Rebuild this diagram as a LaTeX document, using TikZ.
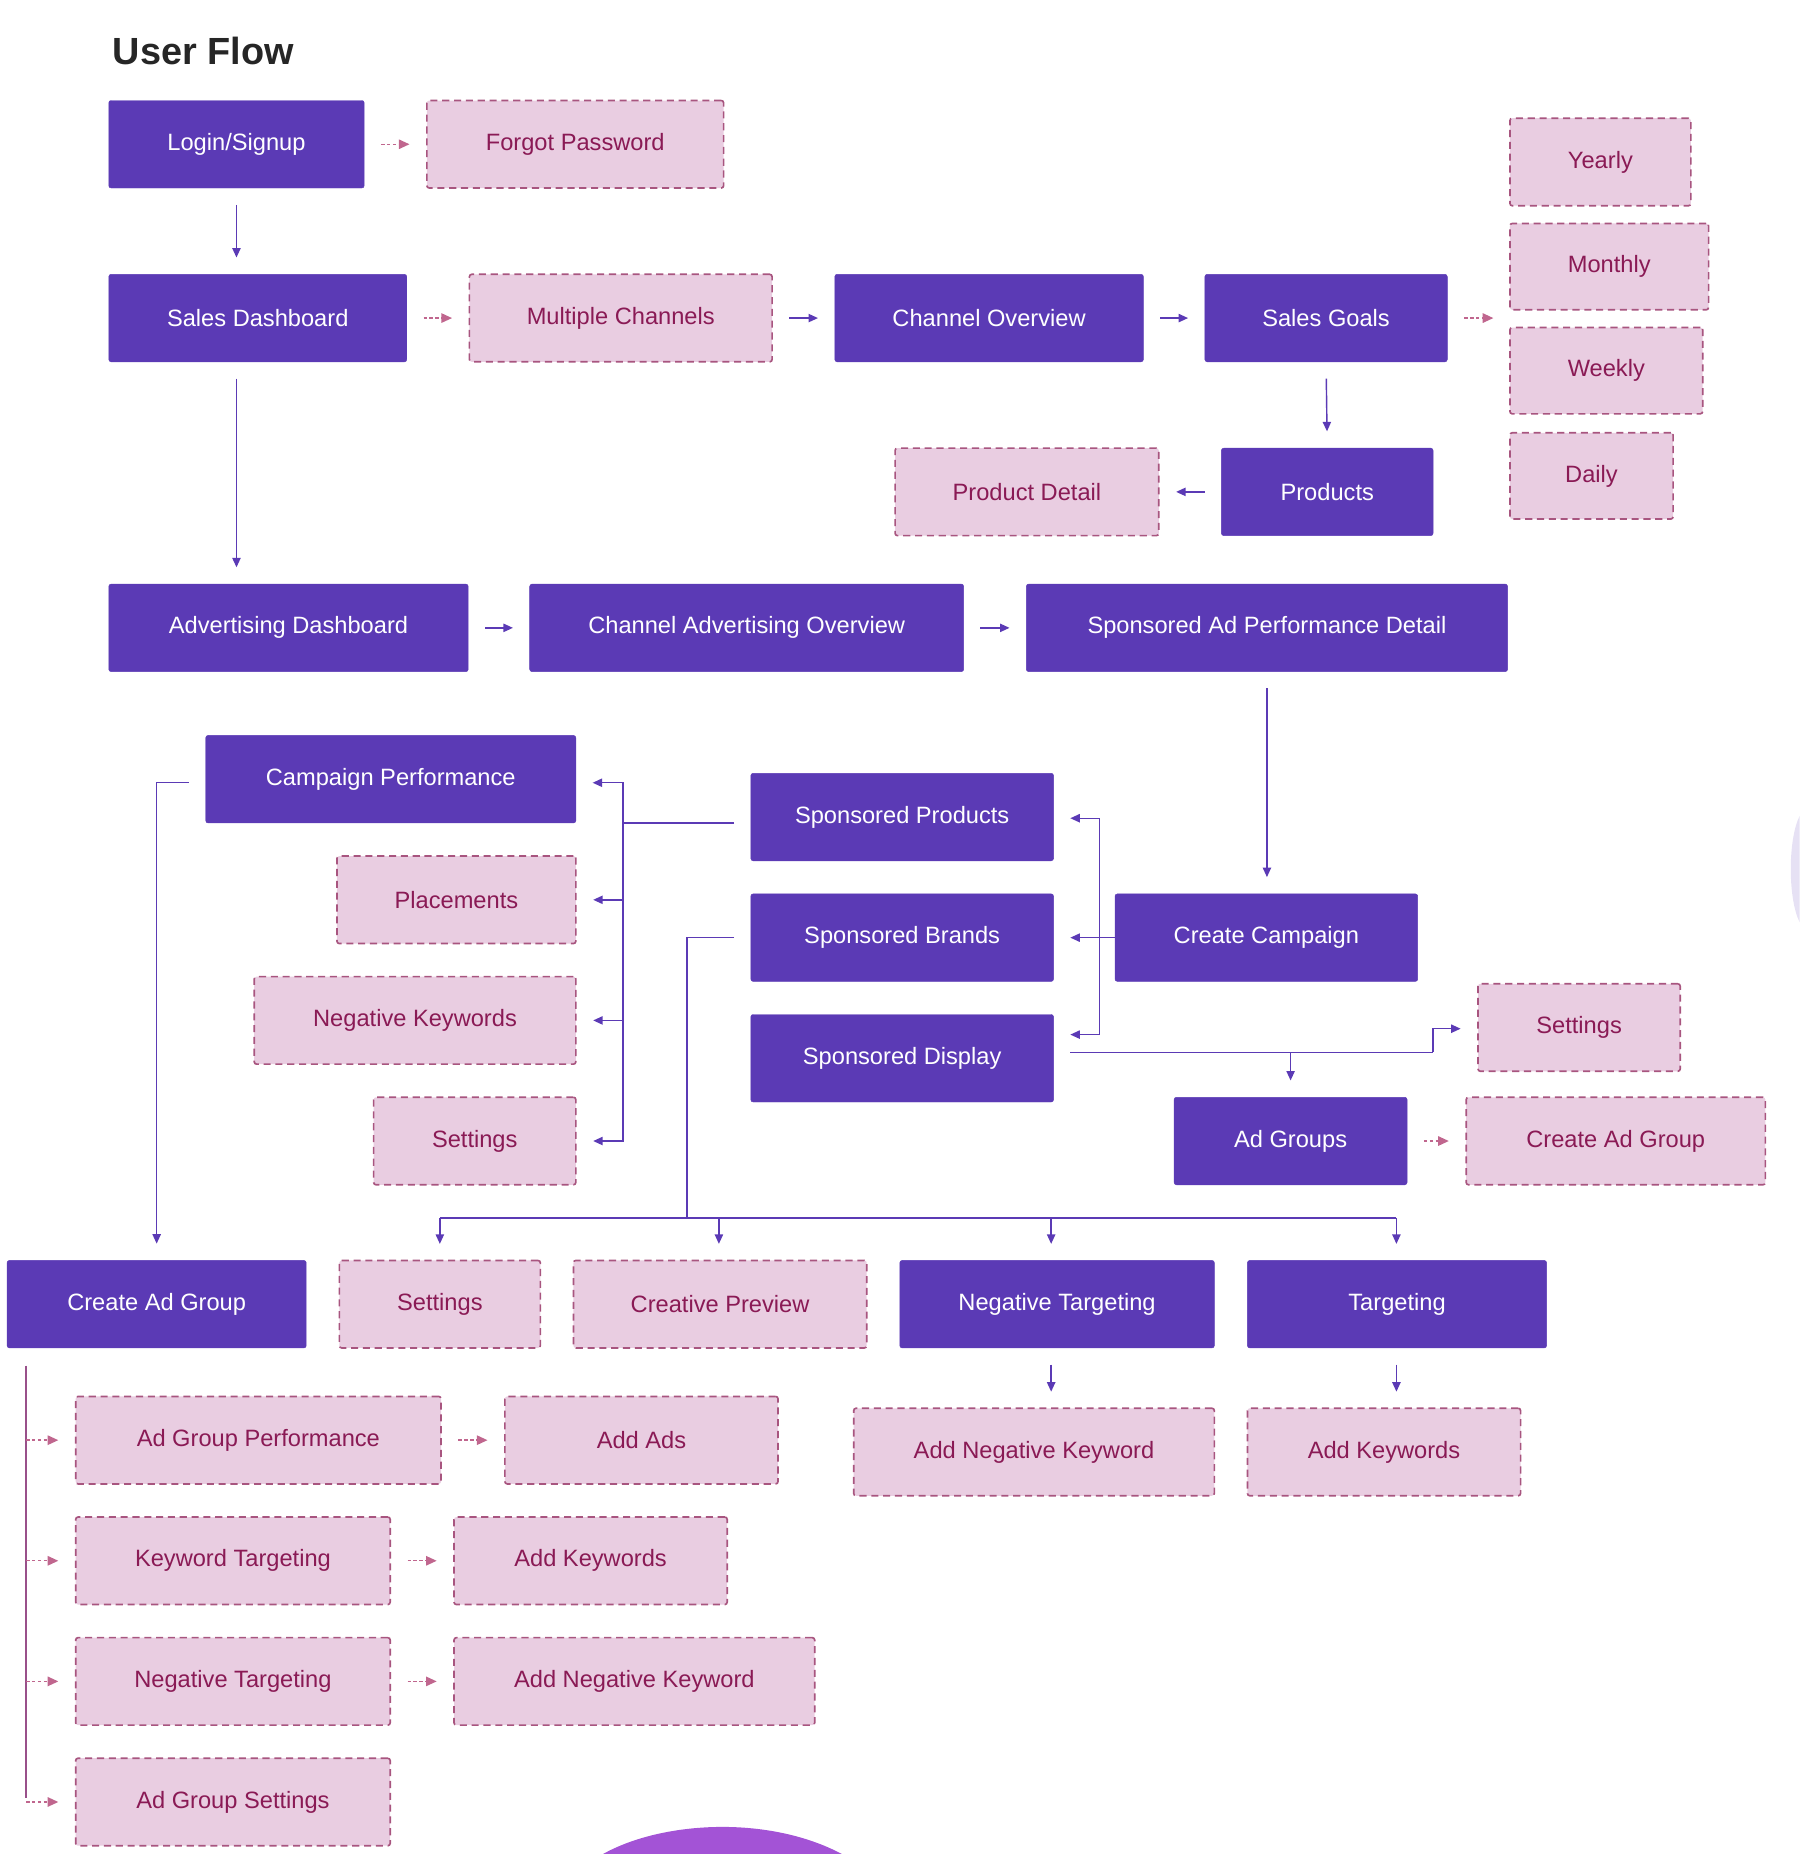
\documentclass[tikz,border=0pt]{standalone}
\usepackage{fontspec}
\setmainfont{Liberation Sans}
\usetikzlibrary{arrows.meta,calc}
\definecolor{pu}{HTML}{5B3AB5}
\definecolor{pf}{HTML}{E9CDE1}
\definecolor{pb}{HTML}{A8557F}
\definecolor{pt}{HTML}{8A1A55}
\definecolor{pa}{HTML}{C0668E}
\tikzset{
 base/.style={rounded corners=2pt,inner sep=0pt,font=\fontsize{20}{24}\selectfont},
 P/.style={base,fill=pu,draw=pu,text=white},
 K/.style={base,fill=pf,draw=pb,dashed,dash pattern=on 6pt off 4pt,line width=1.4pt,text=pt},
 pc/.style={draw=pu,line width=1.2pt,-{Triangle[length=8pt,width=7pt]}},
 pl/.style={draw=pu,line width=1.2pt},
 kc/.style={draw=pa,line width=1.2pt,dash pattern=on 3pt off 2pt,-{Triangle[length=9pt,width=8pt,fill=pa]}},
 g/.style={shorten <=14pt,shorten >=14pt},
}
\newcommand\bx[7]{\node[#6,minimum width={#4-#2},minimum height={#5-#3}] (#1) at ({(#2+#4)/2},{(#3+#5)/2}) {#7};}
\begin{document}
\begin{tikzpicture}[x=1pt,y=-1pt]
\useasboundingbox (0,0) rectangle (1522,1568);
\node[anchor=west,font=\fontsize{32}{36}\selectfont\bfseries,text=black!85] (title) at (92,43) {User Flow};
\bx{login}{92}{85}{308}{159}{P}{Login/Signup}
\bx{forgot}{361}{85}{612}{159}{K}{Forgot Password}
\bx{sd}{92}{232}{344}{306}{P}{Sales Dashboard}
\bx{mc}{397}{232}{653}{306}{K}{Multiple Channels}
\bx{co}{706}{232}{967}{306}{P}{Channel Overview}
\bx{sg}{1019}{232}{1224}{306}{P}{Sales Goals}
\bx{yearly}{1277}{100}{1430}{174}{K}{Yearly}
\bx{monthly}{1277}{189}{1445}{262}{K}{Monthly}
\bx{weekly}{1277}{277}{1440}{350}{K}{Weekly}
\bx{daily}{1277}{366}{1415}{439}{K}{Daily}
\bx{prod}{1033}{379}{1212}{453}{P}{Products}
\bx{pd}{757}{379}{980}{453}{K}{Product Detail}
\bx{ad}{92}{494}{396}{568}{P}{Advertising Dashboard}
\bx{cao}{448}{494}{815}{568}{P}{Channel Advertising Overview}
\bx{sapd}{868}{494}{1275}{568}{P}{Sponsored Ad Performance Detail}
\bx{cp}{174}{622}{487}{696}{P}{Campaign Performance}
\bx{plc}{285}{724}{487}{798}{K}{Placements}
\bx{nk}{215}{826}{487}{900}{K}{Negative Keywords}
\bx{setl}{316}{928}{487}{1002}{K}{Settings}
\bx{sp}{635}{654}{891}{728}{P}{Sponsored Products}
\bx{sb}{635}{756}{891}{830}{P}{Sponsored Brands}
\bx{sdp}{635}{858}{891}{932}{P}{Sponsored Display}
\bx{cc}{943}{756}{1199}{830}{P}{Create Campaign}
\bx{setr}{1250}{832}{1421}{906}{K}{Settings}
\bx{ag}{993}{928}{1190}{1002}{P}{Ad Groups}
\bx{cagr}{1240}{928}{1493}{1002}{K}{Create Ad Group}
\bx{cagl}{6}{1066}{259}{1140}{P}{Create Ad Group}
\bx{setb}{287}{1066}{457}{1140}{K}{Settings}
\bx{cpv}{485}{1066}{733}{1140}{K}{Creative Preview}
\bx{ntg}{761}{1066}{1027}{1140}{P}{Negative Targeting}
\bx{tg}{1055}{1066}{1308}{1140}{P}{Targeting}
\bx{agp}{64}{1181}{373}{1255}{K}{Ad Group Performance}
\bx{aads}{427}{1181}{658}{1255}{K}{Add Ads}
\bx{ank}{722}{1191}{1027}{1265}{K}{Add Negative Keyword}
\bx{akw}{1055}{1191}{1286}{1265}{K}{Add Keywords}
\bx{kt}{64}{1283}{330}{1357}{K}{Keyword Targeting}
\bx{akw2}{384}{1283}{615}{1357}{K}{Add Keywords}
\bx{nt2}{64}{1385}{330}{1459}{K}{Negative Targeting}
\bx{ank2}{384}{1385}{689}{1459}{K}{Add Negative Keyword}
\bx{ags}{64}{1487}{330}{1561}{K}{Ad Group Settings}
% top connectors
\draw[kc,g] (login) -- (forgot);
\draw[pc,g] (login.south) -- (login.south |- sd.north);
\draw[kc,g] (sd) -- (mc);
\draw[pc,g] (mc) -- (co);
\draw[pc,g] (co) -- (sg);
\coordinate (yrs) at (1277,269);
\draw[kc,g] (sg) -- (yrs);
\draw[pc,g] (sg.south) -- (prod.north);
\draw[pc,g] (prod) -- (pd);
\draw[pc,g] (login.south |- sd.south) -- (login.south |- ad.north);
\draw[pc,g] (ad) -- (cao);
\draw[pc,g] (cao) -- (sapd);
\draw[pc,shorten <=14pt,shorten >=14pt] (sapd.south) -- (sapd.south |- cc.north);
% create campaign bracket
\coordinate (jr) at (930,793);
\draw[pl] (cc.west) -- (jr);
\draw[pc,shorten >=14pt] (jr) |- (sp.east |- 0,692);
\draw[pc,shorten >=14pt] (jr) -- (sb.east |- jr);
\draw[pc,shorten >=14pt] (jr) |- (sdp.east |- 0,875);
% sponsored products bracket
\coordinate (jl) at (527,696);
\draw[pl,shorten <=14pt] (sp.west |- jl) -- (jl);
\draw[pc,shorten >=14pt] (jl) |- (cp.east |- 0,662);
\draw[pc,shorten >=14pt] (jl) |- (plc.east);
\draw[pc,shorten >=14pt] (jl) |- (nk.east);
\draw[pc,shorten >=14pt] (jl) |- (setl.east);
% sponsored display
\coordinate (d1) at (1212,890);
\draw[pl,shorten <=14pt] (sdp.east |- d1) -- (d1);
\draw[pc,shorten >=14pt,rounded corners=0pt] (d1) |- (setr.west |- 0,870);
\draw[pc,shorten >=14pt] (ag.north |- d1) -- (ag.north);
\draw[kc,g] (ag) -- (cagr);
% sponsored brands to bottom row
\coordinate (b1) at (581,793);
\coordinate (b2) at (581,1030);
\draw[pl,shorten <=14pt] (sb.west |- b1) -- (b1) -- (b2);
\draw[pl] (372,1030) -- (1181,1030);
\draw[pc,shorten >=14pt] (372,1030) -- (372,1066);
\draw[pc,shorten >=14pt] (608,1030) -- (608,1066);
\draw[pc,shorten >=14pt] (889,1030) -- (889,1066);
\draw[pc,shorten >=14pt] (1181,1030) -- (1181,1066);
% campaign performance to create ad group
\draw[pc,shorten <=14pt,shorten >=14pt] (cp.west |- 0,662) -| (cagl.north);
\draw[pc,g] (889,1140) -- (889,1191);
\draw[pc,g] (1181,1140) -- (1181,1191);
% create ad group children
\coordinate (v1) at (22,1155);
\coordinate (v2) at (22,1521);
\draw[draw=pb!80!pu,line width=1.2pt] (v1) -- (v2);
\foreach \n in {agp,kt,nt2,ags}{\draw[kc,shorten >=14pt] (v1 |- \n.west) -- (\n.west);}
\draw[kc,g] (agp) -- (aads);
\draw[kc,g] (kt) -- (akw2);
\draw[kc,g] (nt2) -- (ank2);
% decorative blobs
\fill[pu!70!magenta!80!white] (510,1568) .. controls (560,1540) and (650,1535) .. (712,1568) -- cycle;
\fill[pu!30!white,opacity=0.5] (1522,690) .. controls (1512,710) and (1512,760) .. (1522,780) -- cycle;
\end{tikzpicture}
\end{document}
